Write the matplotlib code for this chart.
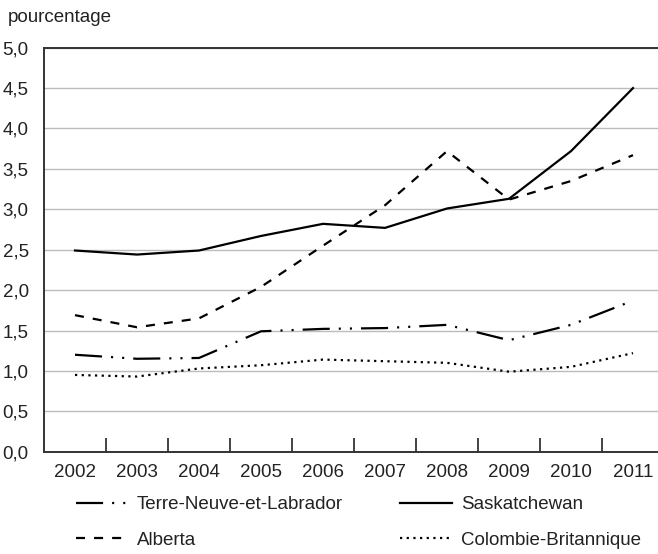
import numpy as np
import matplotlib
matplotlib.use("Agg")
import matplotlib.pyplot as plt

# data (pourcentage)
years = ["2002", "2003", "2004", "2005", "2006", "2007", "2008", "2009", "2010", "2011"]
terre_neuve = [1.20, 1.15, 1.16, 1.49, 1.52, 1.53, 1.57, 1.38, 1.57, 1.87]
saskatchewan = [2.49, 2.44, 2.49, 2.67, 2.82, 2.77, 3.01, 3.13, 3.72, 4.50]
alberta = [1.69, 1.54, 1.65, 2.04, 2.55, 3.05, 3.72, 3.12, 3.35, 3.67]
colombie_b = [0.95, 0.93, 1.03, 1.07, 1.14, 1.12, 1.10, 0.99, 1.05, 1.22]
yticks = [0.0, 0.5, 1.0, 1.5, 2.0, 2.5, 3.0, 3.5, 4.0, 4.5, 5.0]

plt.rcParams['font.family'] = ['Liberation Sans', 'DejaVu Sans']
plt.rcParams['font.size'] = 13.5
plt.rcParams['lines.scale_dashes'] = False
txt = '#222222'

fig = plt.figure(figsize=(6.58, 5.54), dpi=100)
ax = fig.add_axes([44/658, 102.3/554, 620/658, 404/554])

x = np.arange(len(years))
lw = 1.6
l1, = ax.plot(x, terre_neuve, color='black', lw=lw,
              dashes=(19.5, 6.5, 1.5, 6.5, 1.5, 6.5), label='Terre-Neuve-et-Labrador')
l2, = ax.plot(x, alberta, color='black', lw=lw, dashes=(6.5, 6.5), label='Alberta')
l3, = ax.plot(x, saskatchewan, color='black', lw=lw, label='Saskatchewan')
l4, = ax.plot(x, colombie_b, color='black', lw=lw, dashes=(1.6, 3.2), label='Colombie-Britannique')

ax.set_xlim(-0.5, len(years) - 0.5)
ax.set_ylim(0, 5)
ax.set_yticks(yticks)
ax.set_yticklabels([f"{v:.1f}".replace('.', ',') for v in yticks], color=txt)
ax.yaxis.grid(True, color='#bcbcbc', lw=1.0)
ax.set_axisbelow(True)
ax.tick_params(axis='y', length=0, pad=11)

ax.set_xticks(x)
ax.set_xticklabels(years, color=txt)
ax.set_xticks(np.arange(0.5, len(years) - 1, 1), minor=True)
ax.tick_params(axis='x', which='major', length=0, pad=9)
ax.tick_params(axis='x', which='minor', direction='in', length=10, width=1.2, color='#222222')

for s in ['left', 'bottom', 'top']:
    ax.spines[s].set_color('#333333')
    ax.spines[s].set_linewidth(1.4)
ax.spines['right'].set_visible(False)

fig.text(8/658, 1 - 17/554, 'pourcentage', color=txt, va='center', ha='left')

leg_kw = dict(frameon=False, loc='upper left', borderpad=0, borderaxespad=0,
              handlelength=2.75, handletextpad=0.5, labelspacing=1.0,
              labelcolor=txt)
fig.legend(handles=[l1, l2], bbox_to_anchor=(76/658, 1 - 496/554), **leg_kw)
fig.legend(handles=[l3, l4], bbox_to_anchor=(400/658, 1 - 496/554), **leg_kw)

fig.savefig('out.png', dpi=100)
